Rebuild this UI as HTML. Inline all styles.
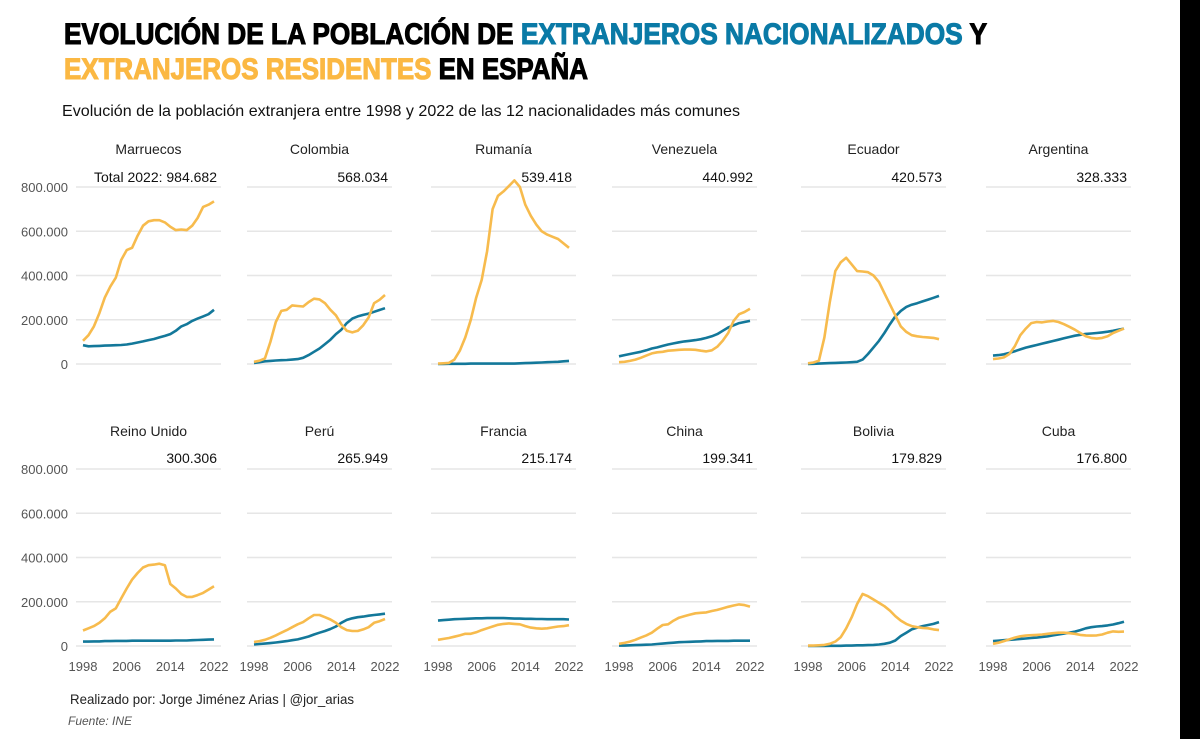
<!DOCTYPE html>
<html><head><meta charset="utf-8"><style>
html,body{margin:0;padding:0;background:#fff;}
svg{display:block;font-family:"Liberation Sans",sans-serif;}
</style></head><body>
<svg id="c" width="1200" height="739" viewBox="0 0 1200 739">
<rect x="0" y="0" width="1200" height="739" fill="#fff"/>
<rect x="1180" y="0" width="20" height="739" fill="#000"/>
<text x="64" y="44" font-size="30" font-weight="bold" stroke="#000" stroke-width="1.1" textLength="923" lengthAdjust="spacingAndGlyphs">EVOLUCIÓN DE LA POBLACIÓN DE <tspan fill="#0a7aa6" stroke="#0a7aa6">EXTRANJEROS NACIONALIZADOS</tspan> Y</text>
<text x="64" y="79" font-size="30" font-weight="bold" stroke="#000" stroke-width="1.1" textLength="524" lengthAdjust="spacingAndGlyphs"><tspan fill="#fbb843" stroke="#fbb843">EXTRANJEROS RESIDENTES</tspan> EN ESPAÑA</text>
<text x="62" y="116" font-size="16" fill="#111" textLength="678" lengthAdjust="spacingAndGlyphs">Evolución de la población extranjera entre 1998 y 2022 de las 12 nacionalidades más comunes</text>
<text x="70" y="704" font-size="14" fill="#222" textLength="284" lengthAdjust="spacingAndGlyphs">Realizado por: Jorge Jiménez Arias | @jor_arias</text>
<text x="68" y="725" font-size="12" font-style="italic" fill="#555">Fuente: INE</text>
<g id="panels"></g>
</svg>
<script>
const countries = ["Marruecos","Colombia","Rumanía","Venezuela","Ecuador","Argentina","Reino Unido","Perú","Francia","China","Bolivia","Cuba"];
const totals = ["Total 2022: 984.682","568.034","539.418","440.992","420.573","328.333","300.306","265.949","215.174","199.341","179.829","176.800"];
const yTicks = [0,200,400,600,800];
const yTickLabels = ["0","200.000","400.000","600.000","800.000"];
const xTicks = [1998,2006,2014,2022];
const years = [1998,1999,2000,2001,2002,2003,2004,2005,2006,2007,2008,2009,2010,2011,2012,2013,2014,2015,2016,2017,2018,2019,2020,2021,2022];
// values in thousands
const residentes = [
[105,130,170,230,300,350,390,470,515,525,580,625,645,650,650,640,620,605,608,605,625,660,710,720,735],
[10,15,25,100,190,240,245,265,262,260,280,295,292,275,245,220,180,150,143,150,175,210,275,290,312],
[2,3,5,20,60,120,200,300,380,510,700,760,780,805,830,800,720,670,630,600,585,575,565,545,525],
[8,10,14,20,28,38,48,53,55,60,62,64,65,65,64,60,57,62,78,105,140,195,225,235,250],
[3,7,15,120,280,420,460,480,450,420,418,415,400,370,320,270,220,170,145,130,125,122,120,118,112],
[22,25,30,45,80,130,160,185,190,188,192,195,190,180,168,155,140,125,118,115,118,125,140,150,160],
[70,80,90,105,125,155,170,215,260,300,330,355,365,368,372,365,280,260,235,222,222,230,240,255,270],
[18,22,28,37,48,60,72,85,98,108,125,140,140,130,120,105,85,72,68,68,75,85,105,112,122],
[28,32,36,42,48,55,55,62,72,80,88,96,100,102,100,98,90,83,80,78,80,84,88,90,94],
[10,14,20,28,38,48,60,78,95,98,115,128,135,142,148,150,152,158,163,170,177,183,188,185,178],
[2,2,3,5,10,20,40,80,130,190,235,225,210,195,180,160,135,115,100,90,85,82,80,75,72],
[10,15,22,30,38,44,47,49,50,52,55,58,60,60,58,55,50,48,47,48,52,60,66,64,65]
];
const nacionalizados = [
[85,80,81,82,83,84,85,86,88,92,97,102,108,113,120,127,135,150,170,180,195,205,215,225,245],
[5,8,12,14,16,17,18,20,22,28,40,55,70,90,110,135,155,185,205,215,222,228,236,244,252],
[0,0,1,1,1,1,2,2,2,2,2,2,2,2,2,3,4,5,6,7,8,9,10,12,14],
[35,40,45,50,55,62,70,75,82,88,93,98,102,105,108,112,118,125,135,150,165,175,185,190,195],
[0,1,2,3,4,5,6,7,8,10,20,45,75,105,140,180,215,240,258,268,275,283,291,299,308],
[38,40,44,50,58,66,74,80,86,92,98,104,110,116,122,128,132,136,138,140,143,146,150,155,160],
[20,20,21,21,22,22,23,23,23,24,24,24,24,24,24,24,24,25,25,25,26,27,28,29,30],
[7,9,11,13,16,19,22,26,30,36,43,52,60,68,77,88,105,118,125,130,133,137,140,143,146],
[115,117,119,121,122,123,124,125,125,126,126,126,126,125,124,124,123,123,122,122,121,121,121,121,120],
[2,2,3,4,5,6,7,9,11,13,15,17,18,19,20,21,22,22,23,23,23,24,24,24,24],
[0,0,0,0,1,1,1,2,2,3,3,4,5,7,10,15,25,45,60,75,83,90,95,100,108],
[22,24,26,28,30,32,34,36,38,41,44,48,52,56,60,65,72,80,85,88,90,93,97,103,110]
];
const NS="http://www.w3.org/2000/svg";
const g=document.getElementById("panels");
const colX=[83,254,438,619,808,993], plotW=131;
const rowZero=[364,646], rowTop=[187,469];
function mk(tag,attrs,parent){const e=document.createElementNS(NS,tag);for(const k in attrs)e.setAttribute(k,attrs[k]);(parent||g).appendChild(e);return e;}
countries.forEach((name,i)=>{
  const r=Math.floor(i/6), c=i%6, x0=colX[c];
  const xs=y=>x0+(y-1998)/(2022-1998)*plotW;
  const ys=v=>rowZero[r]-v/800*(rowZero[r]-rowTop[r]);
  const p=mk("g",{});
  
  
  yTicks.forEach((t,k)=>{
    const ln=mk("line",{x1:x0-7,x2:x0+plotW+7,y1:ys(t),y2:ys(t),stroke:"#e6e6e6","stroke-width":1.5},p);
    
    
    if(c===0){
      const tl=mk("text",{x:68,y:ys(t)+5,"font-size":13,fill:"#555","text-anchor":"end"},p);
      tl.textContent=yTickLabels[k];
      
      
    }
  });
  if(r===1){xTicks.forEach(t=>{
    const tl=mk("text",{x:xs(t),y:671,"font-size":13,fill:"#555","text-anchor":"middle"},p);
    tl.textContent=t;
    
    
  });}
  const tt=mk("text",{x:x0+plotW/2,y:(r?431:149)+5,"font-size":14,fill:"#222","text-anchor":"middle"},p);
  tt.textContent=name;
  
  
  const tot=mk("text",{x:x0+plotW+3,y:(r?458:177)+5,"font-size":14,fill:"#111","text-anchor":"end"},p);
  tot.textContent=totals[i];
  
  
  const path=arr=>arr.map((v,k)=>(k?"L":"M")+xs(years[k]).toFixed(1)+","+ys(v).toFixed(1)).join("");
  const l1=mk("path",{d:path(nacionalizados[i]),fill:"none",stroke:"#13789a","stroke-width":2.6,"stroke-linejoin":"round"},p);
  
  
  const l2=mk("path",{d:path(residentes[i]),fill:"none",stroke:"#f7bb4d","stroke-width":2.6,"stroke-linejoin":"round"},p);
  
  
});
</script>
</body></html>
